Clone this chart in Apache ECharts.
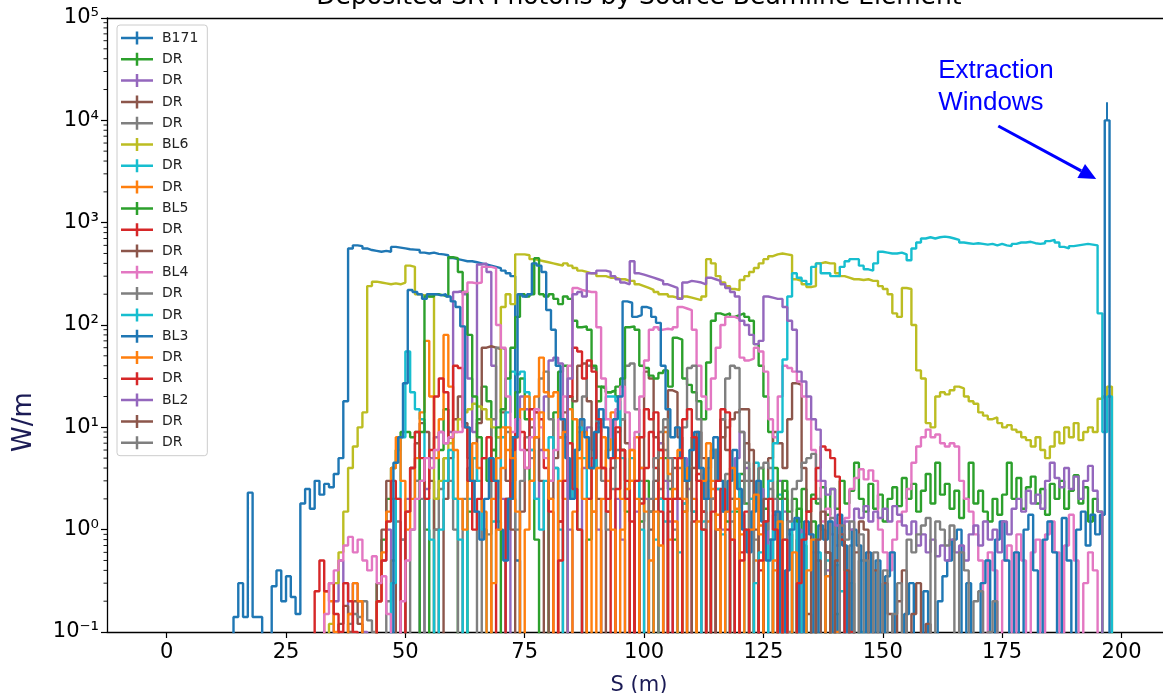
<!DOCTYPE html>
<html>
<head>
<meta charset="utf-8">
<script src="https://cdn.jsdelivr.net/npm/echarts@6/dist/echarts.min.js"></script>
<style>
  html, body { margin: 0; padding: 0; background: #ffffff; }
  #chart { width: 1163px; height: 693px; }
</style>
</head>
<body>
<div id="chart"></div>
<script>
// Deposited synchrotron-radiation power (W/m) along the beamline, one step
// histogram per source element. Bins are 1 m wide; each list starts at binStart.
// A 0 marks an empty bin.

const seriesNames = ['B171', 'DR', 'DR', 'DR', 'DR', 'BL6', 'DR', 'DR', 'BL5', 'DR',
                     'DR', 'BL4', 'DR', 'DR', 'BL3', 'DR', 'DR', 'BL2', 'DR', 'DR'];

// first bin edge (m) of every series, same order as seriesNames
const binStart = [14, 44, 35, 36, 38, 34, 47, 33, 53, 31, 100, 33, 100, 123, 47.5, 68, 82, 84, 136, 141];

const b171 = [
  0.14, 0.3, 0.14, 2.3, 0.14, 0.14, 0, 0, 0.28, 0.4,
  0.2, 0.35, 0.22, 0.15, 1.8, 2.5, 1.6, 3.0, 2.2, 2.8,
  2.6, 3.5, 5, 18,
  560, 600, 590, 560, 540, 530, 520, 530, 520, 580,
  570, 560, 550, 545, 540, 510, 500, 510, 495, 490,
  480, 450, 440, 430, 420, 420, 410, 400, 390, 380,
  370, 360, 340, 320, 300, 0.5
];

const drGreen1 = [
  0.3, 0.8, 2, 4, 6, 9, 9, 8, 9, 3,
  1, 0, 2, 6, 15, 8, 2, 0, 0, 1.5,
  5, 12, 25, 18, 6, 1.2, 0, 2, 8, 22,
  30, 12, 3, 0.8, 0, 0, 3, 14, 35, 40,
  20, 5, 1, 0, 0.8, 4, 18, 25, 22, 23,
  20, 6, 1.5, 0, 0, 1.2, 3, 1.5, 0, 2,
  5, 2.5, 0.8, 0, 1.5, 4, 8, 3, 1, 0,
  2, 6, 3, 1.2, 0, 1.5, 3.5, 1.8, 0, 2.2,
  4, 1.6, 0.8, 0, 1, 2.4, 0.9, 0, 1.6, 0.7,
  0, 1.2, 0, 0, 0.6, 0, 0.15
];

const drPurple1 = [
  0.2, 0.5, 0.3, 0.15, 0.3, 0.2, 0.1, 0, 0, 0.2,
  0.5, 1, 0, 0, 0.8, 2, 4, 3, 0, 2.5,
  5, 8, 9, 7, 9, 210, 215, 200, 30, 9,
  390, 400, 330, 40, 8, 2, 0, 3, 12, 20,
  15, 6, 2, 6, 20, 45, 48, 42, 8, 1,
  0, 0, 4, 10, 6, 1, 0, 0, 0, 2,
  0.8, 0, 0, 1.5, 4, 2, 0, 3, 7, 3,
  1.2, 0, 2, 5, 2.5, 0, 0, 1.5, 4, 6,
  2.5, 1, 0, 2, 5, 9, 4, 1.5, 0, 2.5,
  1.2, 0, 1.4, 3, 1.5, 0, 0, 1, 0, 0,
  0.6, 0, 0, 0.4, 0, 0.1
];

const drBrown1 = [
  0.12, 0.18, 0.1, 0.2, 0.12, 0, 0, 0, 0.3, 1,
  3, 2, 0, 0, 1.5, 4, 7, 11, 9, 3,
  1, 0, 2, 5, 12, 20, 11, 5, 3, 11,
  60, 62, 60, 58, 14, 3, 1, 0, 1.5, 6,
  10, 8, 3, 0, 2, 5, 8, 14, 20, 18,
  40, 42, 18, 5, 2, 0, 1.5, 4, 9, 12,
  7, 3, 0, 2, 35, 30, 8, 2, 0, 1.5,
  4, 2, 0, 3, 8, 4, 1.5, 0, 2, 5,
  12, 6, 2, 0, 3, 7, 3, 1, 0, 1.2,
  3, 1.5, 0, 2, 1, 0, 0.8, 0, 0.15, 0
];

const drGray1 = [
  0.12, 0.15, 0.14, 0.2, 0.13, 0.1, 0, 0, 0.2, 0.5,
  1.2, 0.8, 0, 1, 3, 2, 0, 0, 1, 2.5,
  5, 3, 1, 0, 2, 4, 1.5, 0, 1, 0.9,
  12, 60, 58, 9, 2, 1, 3, 8, 5, 14,
  30, 35, 12, 4, 1.2, 0, 2, 5, 9, 20,
  40, 38, 10, 3, 1, 2.5, 6, 12, 40, 42,
  15, 3, 0, 1.5, 0, 2.5, 6, 3, 1, 0,
  1.8, 4, 1.5, 0, 2, 5, 2, 0, 1.5, 3.5,
  1.2, 0, 1.8, 4.5, 2, 0.8, 0, 1, 2.5, 1,
  0, 0.2, 0.1
];

const bl6 = [
  0.12, 0.3, 0.6, 1.5, 4, 6.5, 10, 14, 240, 265,
  260, 255, 250, 255, 250, 260, 380, 370, 200, 195,
  200, 190, 2, 3, 5, 7, 9, 12, 14, 15,
  17, 16, 15, 12, 10, 8, 150, 200, 160,
  490, 490, 480, 440, 430, 420, 410, 400, 390, 380,
  400, 380, 360, 340, 330, 320, 320, 300, 300, 290,
  290, 280, 280, 270, 270, 250, 240, 230, 220, 210,
  200, 200, 190, 185, 180, 190, 185, 180, 175, 190,
  440, 400, 300, 260, 240, 225, 220, 275, 300, 330,
  360, 400, 440, 470, 490, 500, 490, 480, 280, 270,
  250, 235, 240, 400, 410, 400, 400, 320, 300, 290,
  280, 280, 275, 280, 270, 270, 240, 225, 200, 130,
  120, 230, 225, 100, 36, 30, 11, 10, 20, 22,
  21, 23, 25, 24, 20, 18, 17, 14, 13, 12,
  12.5, 11, 10, 10.5, 9.5, 9, 8, 7.5, 6.5, 8,
  6, 5, 6.5, 9, 7, 10, 8, 11, 7.5, 9,
  10, 9, 19, 20, 25
];

const drCyan1 = [
  0.3, 2, 8, 55, 22, 15, 12, 2, 0.8, 0,
  1, 3, 6, 2, 0.8, 0, 2, 5, 3, 1,
  0, 1.2, 3, 8, 14, 35, 33, 35, 22, 6,
  2, 1, 3, 8, 4, 1, 0, 2, 6, 10,
  5, 2, 4, 9, 12, 20, 20, 18, 5, 2,
  5, 3, 1, 0, 0, 0.8, 2, 1.2, 0, 0,
  0.6, 1.8, 4, 1.5, 0, 1.2, 3, 6, 2.5, 0.9,
  0, 1.5, 3.5, 1.4, 0, 2, 4.5, 1.8, 0.7, 0,
  1, 2.2, 0.8, 0, 1.2, 0, 0.9, 0, 0, 0.6,
  0, 0.5, 0, 0.45, 0.25, 0, 0.3, 0, 0.1
];

const drOrange1 = [
  0.25, 0.2, 0.1, 0, 0, 0.15, 0.3, 0.2, 0, 0,
  0, 0.2, 0.6, 1.5, 4, 8, 3, 1, 2, 5,
  14, 70, 20, 5, 12, 80, 25, 6, 2, 1,
  3, 7, 4, 1.5, 0, 2, 5, 10, 6, 3,
  8, 15, 20, 12, 20, 48, 22, 20, 22, 8,
  2, 0, 1.5, 5, 9, 4, 1.5, 0, 2, 6,
  14, 5, 2, 0, 3, 8, 4, 1.5, 0, 2,
  5, 9, 3.5, 1.2, 0, 1.5, 4, 2, 0, 0,
  1.2, 3, 1.4, 0, 0, 0.8, 2, 0.9, 0, 0,
  0.5, 1.1, 0, 0, 0.4, 0, 0.3, 0
];

const bl5 = [
  9, 190, 190, 200, 195, 190, 460, 450, 330, 210,
  80, 20, 8, 5, 3, 6, 10, 15, 30, 60,
  120, 200, 190, 200, 450, 200, 190, 200, 180, 160,
  190, 180, 110, 95, 97, 90, 40, 25, 24, 22,
  23, 25, 30, 95, 97, 90, 40, 38, 32, 30,
  34, 36, 25, 75, 72, 30, 26, 22, 18, 12,
  43, 110, 130, 125, 130, 120, 125, 130, 120, 110,
  65, 40, 20, 9, 4, 2, 3, 1.5, 2, 1.2,
  2.5, 1.5, 2.2, 1.8, 2.6, 1.4, 2.5, 1.6, 3.0, 1.8,
  2.4, 4.5, 2.0, 1.5, 2.8, 1.6, 2.2, 1.2, 2.0, 2.6,
  1.7, 3.2, 2.0, 2.8, 1.5, 2.4, 3.5, 1.8, 4.5, 2.2,
  2.8, 1.6, 2.4, 1.3, 2.0, 4.5, 1.8, 2.4, 1.5, 1.2,
  2.0, 1.4, 2.2, 4.5, 2.0, 3.2, 1.6, 2.6, 3.3, 1.8,
  2.5, 1.4, 2.8, 2.0, 3.0, 1.6, 2.4, 3.4, 1.8, 2.6,
  1.2, 2.0, 1.5
];

const drRed1 = [
  0.25, 0.5, 0.25, 0.3, 0.15, 0.1, 0.3, 0.2, 0.1, 0,
  0, 0, 0, 0.2, 0.5, 1.2, 3, 2, 0, 1.5,
  4, 9, 5, 2, 6, 20, 30, 22, 8, 40,
  38, 10, 3, 1, 2, 5, 8, 3, 0, 0,
  2, 6, 12, 9, 4, 15, 14, 12, 4, 1.5,
  0, 1.2, 3, 7, 2.5, 1, 0, 2, 5, 11,
  4, 1.5, 0, 2.5, 6, 3, 1.2, 0, 1.8, 4,
  9, 4, 1.5, 0, 2, 5, 2, 0, 0, 1.2,
  3.5, 1.5, 0, 0, 1, 2.5, 1, 0, 0, 0.6,
  1.5, 0, 0, 0.4, 0
];

const drBrown2 = [
  0, 1, 3, 6, 10, 23, 22, 8, 3, 0,
  4, 9, 5, 2, 0, 3, 8, 10, 12, 14,
  15, 15, 6, 2, 0, 2, 5, 9, 7, 4,
  12, 27, 26, 4, 1.5, 0, 0.5, 0, 0.6, 0
];

const bl4 = [
  0.15, 0.3, 0.4, 0.5, 0.7, 0.85, 0.6, 0.8, 0.5, 0.4,
  0.55, 0.3, 0.35, 0.15, 0, 0, 0.2, 0.5, 1, 2,
  3, 5, 4, 6, 9, 7, 8, 9, 9, 210,
  260, 255, 260, 370, 370, 360, 100, 60, 20, 9,
  12, 6, 4, 8, 15, 10, 5, 3, 6, 12,
  20, 40, 230, 220, 215, 210, 210, 95, 30, 12,
  8, 15, 25, 14, 6, 9, 20, 45, 90, 95,
  90, 92, 90, 95, 150, 145, 140, 90, 40, 20,
  15, 30, 60, 100, 120, 120, 115, 48, 45, 47,
  60, 55, 35, 12, 8, 20, 40, 38, 35, 28,
  20, 12, 6, 3, 1.2, 1.6, 0.9, 0.7, 1.0, 1.3,
  2.5, 3.2, 3.9, 3.1, 3.8, 3.0, 1.0, 0.6, 0.4, 0.8,
  1.2, 1.5, 2.5, 4.5, 6.5, 8, 9.5, 8, 8.5, 7,
  6.5, 7, 6.5, 3, 2, 1.5, 0.9, 0.5, 0, 0.6,
  0.4, 0, 0.5, 0.7, 0, 0.9, 0.5, 0, 0.6, 0.8,
  0, 0.9, 1.2, 0.6, 0, 0.7, 1.4, 0.5, 0, 0.3,
  0.6, 0.4, 0
];

const drGray2 = [
  0, 2, 5, 9, 12, 5, 2, 4, 10, 38,
  40, 12, 3, 0, 2, 6, 12, 30, 40, 38,
  9, 3, 0, 2, 4, 4.5, 4, 2, 1, 0,
  1.2, 2.5, 3, 4.5, 5, 5.5, 2, 1, 0, 1.3,
  0, 0.9, 0, 0.7, 0, 0.5, 0
];

const drCyan2 = [
  0.3, 0.6, 1.2, 3, 7, 9, 46, 190, 320, 290,
  270, 250, 370, 400, 320, 320, 300, 300, 370, 420,
  440, 440, 380, 350, 340, 400, 520, 510, 500, 500,
  510, 490, 430, 560, 640, 700, 720, 700, 720, 730,
  720, 700, 680, 640, 630, 620, 630, 620, 610, 620,
  600, 620, 600, 590, 620, 640, 640, 650, 630, 620,
  630, 660, 680, 640, 580, 560, 590, 600, 610, 620,
  610, 600, 130, 9, 20
];

const bl3 = [
  4.5, 8, 27, 220, 210, 200, 180, 200, 200, 195,
  200, 190, 170, 150, 97, 10, 3, 1.5, 0.8, 2,
  5, 3, 1, 0.5, 2, 8, 200, 190, 200, 400,
  380, 330, 140, 90, 40, 12, 5, 2, 6, 12,
  8, 4, 9, 15, 10, 5, 12, 20, 170, 165,
  120, 125, 150, 145, 120, 105, 40, 15, 8, 10,
  5, 3, 6, 9, 4, 2, 5, 8, 3, 1.5,
  3, 6, 2.5, 1, 0.6, 1.5, 3, 1.2, 0.5, 0.8,
  1.5, 0, 0.4, 1.0, 1.3, 0, 1.2, 0.9, 0, 1.1,
  0.8, 1.2, 0, 1.4, 0.7, 0, 1.0, 0.7, 0, 0.6,
  0, 0.5, 0, 0.35, 0.6, 0, 0, 0.15, 0.3, 0,
  0, 0.25, 0, 0, 0.2, 0.35, 0.5, 0.8, 1.0, 0,
  0.3, 0, 0, 0.3, 0.5, 0, 0.8, 1.2, 0.5, 0,
  0.6, 0, 1.0, 1.4, 0.4, 0, 0.8, 1.2, 0.6, 0,
  1.3, 0.5, 0, 1.0, 1.5, 0.7, 1.4, 0.9, 1.4,
  10000
];
// upper error of the extraction-window bin (last BL3 bin)
const bl3PeakError = 5000;

const drOrange2 = [
  0.3, 1, 4, 10, 5, 1.5, 0, 1, 3, 8,
  14, 6, 2, 0, 3, 9, 15, 12, 5, 2,
  0, 1.5, 4, 8, 3, 1, 0, 1, 2.5, 6,
  2, 0, 0, 0.5, 1.5, 0.7, 0, 0.8, 2.5, 6,
  2, 0, 0, 1.2, 3, 7, 2.5, 1, 0, 1.5,
  4, 1.6, 0, 0, 1, 2.2, 0.9, 0, 0, 0.5,
  1.2, 0, 0, 0.6, 0, 0, 0.4, 0.8, 0, 0,
  0.35, 0, 0.1
];

const drRed2 = [
  0.5, 3, 20, 60, 55, 30, 45, 35, 12, 4,
  2, 5, 10, 6, 2, 0, 3, 8, 15, 12,
  14, 6, 2, 0, 2, 5, 12, 15, 8, 3,
  1, 0, 1.5, 3, 15, 14, 0.8, 0, 0.5, 1,
  0, 0, 0.5, 1.2, 2, 1, 0, 0.8, 0, 0,
  0.3, 0.8, 1.5, 2, 4, 6.5, 6, 5, 3.3, 0.8,
  0, 0.1
];

const bl2 = [
  30, 200, 210, 190, 320, 320, 340, 340, 330, 300,
  280, 260, 250, 420, 320, 310, 300, 290, 280, 270,
  250, 240, 230, 180, 260, 270, 265, 260, 250, 290,
  280, 270, 250, 230, 210, 190, 110, 100, 80, 65,
  70, 190, 185, 180, 180, 150, 110, 90, 35, 28,
  20, 12, 9.5, 3, 2.2, 2.5, 1.1, 0.9, 1.2, 1.0,
  1.6, 1.3, 1.7, 1.2, 1.5, 1.3, 1.6, 1.2, 1.7, 1.4,
  1.1, 0.9, 1.2, 0.7, 0.9, 0.6, 0.8, 0.55, 0.7, 0.5,
  0.8, 0.6, 0.7, 0.5, 0.9, 1.1, 0.7, 1.2, 0.8, 1.0,
  0.6, 1.2, 0.9, 1.6, 2.0, 1.5, 2.4, 1.8, 2.2, 1.6,
  3.0, 4.5, 3.2, 2.6, 4.0, 2.5, 3.3, 2.0, 3.0, 4.2,
  2.4, 1.5
];

const drBrown3 = [
  0.8, 1.5, 0.6, 0, 0.5, 0.9, 0.4, 0, 0.6, 1.2,
  1.0, 0, 0.4, 0, 0.3, 0.15, 0, 0.2, 0.4, 0,
  0.15, 0.3, 0, 0.12, 0
];

const drGray3 = [
  1.1, 0.8, 1.2, 0, 0.9, 0.5, 0, 0.6, 0, 0.4,
  0, 0.15, 0.3, 0, 0.8, 0.6, 0.9, 1.1, 1.3, 0,
  1.2, 1.0, 0.7, 1.1, 0, 0.6, 0.4, 0, 0.2, 0.25,
  0, 0.1, 0.2, 0
];

const seriesData = [b171, drGreen1, drPurple1, drBrown1, drGray1, bl6, drCyan1, drOrange1, bl5, drRed1,
                    drBrown2, bl4, drGray2, drCyan2, bl3, drOrange2, drRed2, bl2, drBrown3, drGray3];

// axis ticks
const xTicks = [0, 25, 50, 75, 100, 125, 150, 175, 200];
const yTicks = [0.1, 1, 10, 100, 1000, 10000, 100000];
const yTickLabels = ['10⁻¹', '10⁰', '10¹', '10²', '10³', '10⁴', '10⁵'];

// annotation text and arrow, in data coordinates (S, W/m)
const noteLines = ['Extraction', 'Windows'];
const noteAnchors = [[161.6, 3.07e4], [161.6, 1.47e4]];
const arrowFrom = [174.2, 8.8e3];
const arrowTo = [194.7, 2.67e3];

// ---- drawing ----
const COLORS = ['#1f77b4', '#2ca02c', '#9467bd', '#8c564b', '#7f7f7f', '#bcbd22', '#17becf', '#ff7f0e',
                '#2ca02c', '#d62728', '#8c564b', '#e377c2', '#7f7f7f', '#17becf', '#1f77b4', '#ff7f0e',
                '#d62728', '#9467bd', '#8c564b', '#7f7f7f'];
const X_MIN = -12.5, X_MAX = 208.7;
const Y_MIN = 0.1, Y_MAX = 1e5;
const FLOOR = 1e-3;      // empty bins drop below the axis floor
const BIN = 1;
const TICK_FONT = 'DejaVu Sans';
const LEGEND_ICON = 'path://M0,5.25H14.75V0H17.25V5.25H32V7.75H17.25V13H14.75V7.75H0Z';
const LINE_W = 2.4;

function histogram(start, values) {
  const pts = [[start, FLOOR]];
  values.forEach((v, i) => pts.push([start + i * BIN, Math.max(v, FLOOR)]));
  pts.push([start + values.length * BIN, FLOOR]);
  return pts;
}

const minorTicks = [];
yTicks.slice(0, -1).forEach(d => { for (let m = 2; m <= 9; m++) minorTicks.push([X_MIN, m * d]); });

const bl3Index = seriesData.indexOf(bl3);
const peakS = binStart[bl3Index] + (bl3.length - 0.5) * BIN;
const peakV = bl3[bl3.length - 1];

const lineSeries = seriesData.map((vals, i) => {
  const s = {
    type: 'line',
    name: seriesNames[i] + '#' + i,
    data: histogram(binStart[i], vals),
    step: 'end',
    symbol: 'none',
    showSymbol: false,
    clip: true,
    silent: true,
    animation: false,
    color: COLORS[i],
    itemStyle: { color: COLORS[i] },
    lineStyle: { color: COLORS[i], width: LINE_W },
    emphasis: { disabled: true }
  };
  if (i === bl3Index) {
    s.markLine = {
      silent: true, symbol: ['none', 'none'], animation: false,
      label: { show: false },
      lineStyle: { color: COLORS[i], width: 2, type: 'solid' },
      data: [[{ coord: [peakS, peakV] }, { coord: [peakS, peakV + bl3PeakError] }]]
    };
  }
  return s;
});

const chart = echarts.init(document.getElementById('chart'));

chart.setOption({
  animation: false,
  backgroundColor: '#ffffff',
  grid: { left: 107, top: 18, right: 0, bottom: 61, show: false },
  xAxis: [{
    type: 'value', min: X_MIN, max: X_MAX,
    axisLine: { show: true, onZero: false, lineStyle: { color: '#000', width: 1.3 } },
    axisTick: { show: true, customValues: xTicks, length: 6, lineStyle: { color: '#000', width: 1.2 } },
    axisLabel: { customValues: xTicks, fontFamily: TICK_FONT, fontSize: 21, color: '#000', margin: 10 },
    splitLine: { show: false }
  }, {
    type: 'value', min: X_MIN, max: X_MAX, position: 'top',
    axisLine: { show: true, onZero: false, lineStyle: { color: '#000', width: 1.3 } },
    axisTick: { show: false }, axisLabel: { show: false }, splitLine: { show: false }
  }],
  yAxis: {
    type: 'log', logBase: 10, min: Y_MIN, max: Y_MAX,
    axisLine: { show: true, onZero: false, lineStyle: { color: '#000', width: 1.3 } },
    axisTick: { show: true, customValues: yTicks, length: 6, lineStyle: { color: '#000', width: 1.2 } },
    axisLabel: {
      customValues: yTicks, fontFamily: TICK_FONT, fontSize: 21, color: '#000', margin: 8,
      formatter: v => yTickLabels[Math.round(Math.log10(v)) + 1]
    },
    splitLine: { show: false }
  },
  legend: {
    orient: 'vertical', left: 117, top: 25,
    icon: LEGEND_ICON, itemWidth: 32, itemHeight: 13, itemGap: 7.3,
    padding: [6, 9, 6, 4],
    backgroundColor: 'rgba(255,255,255,0.8)', borderColor: '#cccccc', borderWidth: 1, borderRadius: 3,
    textStyle: { fontFamily: TICK_FONT, fontSize: 14, lineHeight: 13, color: '#222', padding: [0, 0, 0, 4] },
    formatter: n => n.split('#')[0],
    selectedMode: false,
    data: lineSeries.map(s => s.name)
  },
  series: lineSeries.concat([{
    type: 'custom', name: 'minor', silent: true, clip: false, animation: false,
    data: minorTicks,
    renderItem: (params, api) => {
      const p = api.coord([api.value(0), api.value(1)]);
      return { type: 'line', shape: { x1: p[0] - 3.5, y1: p[1], x2: p[0], y2: p[1] },
               style: { stroke: '#000', lineWidth: 0.9 } };
    }
  }])
});

// titles and annotation
const px = c => chart.convertToPixel({ gridIndex: 0 }, c);
const a0 = px(arrowFrom), a1 = px(arrowTo);
const ang = Math.atan2(a1[1] - a0[1], a1[0] - a0[0]);
const headLen = 17, headHalf = 8;
const base = [a1[0] - headLen * Math.cos(ang), a1[1] - headLen * Math.sin(ang)];
const nx = -Math.sin(ang), ny = Math.cos(ang);
const NOTE_BLUE = '#0000ff';

const graphics = [
  { type: 'text', x: 639, y: 10, silent: true,
    style: { text: 'Deposited SR Photons by Source Beamline Element', font: '25px "DejaVu Sans"',
             fill: '#000', textAlign: 'center', textVerticalAlign: 'bottom' } },
  { type: 'text', x: 24, y: 422, rotation: Math.PI / 2, silent: true,
    style: { text: 'W/m', font: '26px "DejaVu Sans"', fill: '#1b1b55', textAlign: 'center', textVerticalAlign: 'middle' } },
  { type: 'text', x: 639, y: 686, silent: true,
    style: { text: 'S (m)', font: '21px "DejaVu Sans"', fill: '#1b1b55', textAlign: 'center', textVerticalAlign: 'middle' } },
  { type: 'line', silent: true,
    shape: { x1: a0[0], y1: a0[1], x2: base[0], y2: base[1] },
    style: { stroke: NOTE_BLUE, lineWidth: 3 } },
  { type: 'polygon', silent: true,
    shape: { points: [a1, [base[0] + nx * headHalf, base[1] + ny * headHalf], [base[0] - nx * headHalf, base[1] - ny * headHalf]] },
    style: { fill: NOTE_BLUE } }
];
noteLines.forEach((t, i) => {
  const p = px(noteAnchors[i]);
  graphics.push({ type: 'text', x: p[0], y: p[1], silent: true,
    style: { text: t, font: '26px "Liberation Sans"', fill: NOTE_BLUE, textAlign: 'left', textVerticalAlign: 'middle' } });
});
chart.setOption({ graphic: graphics });
</script>
</body>
</html>
